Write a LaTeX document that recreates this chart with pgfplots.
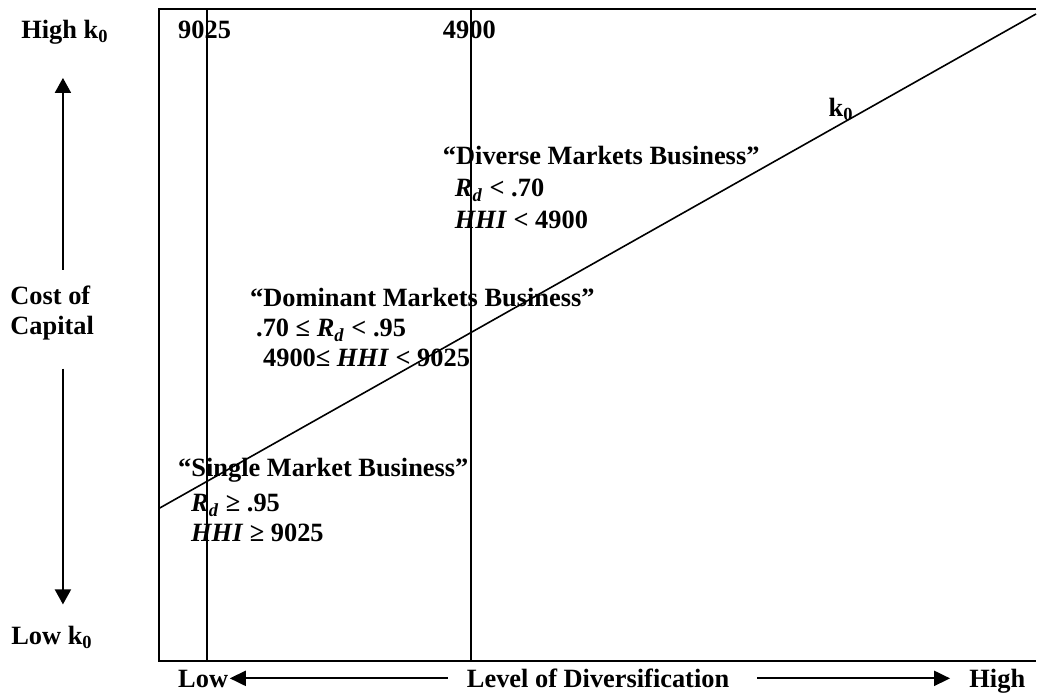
\documentclass[border=0pt]{standalone}
\usepackage{pgfplots}
\pgfplotsset{compat=1.18}
\usepackage{fontspec}
\setmainfont{Liberation Serif}
\usetikzlibrary{arrows.meta}
\tikzset{lab/.style={font=\fontsize{13.2}{15}\selectfont\bfseries, inner sep=0pt, anchor=base west}}
\newcommand{\Rd}{\textit{R}\textsubscript{\textit{d}}}
\begin{document}
\begin{tikzpicture}
\begin{axis}[scale only axis, width=518.5pt, height=347pt,
  xmin=0, xmax=1037, ymin=0, ymax=694, y dir=reverse,
  hide axis, clip=false]
% invisible corners for bounding box
\addplot[draw=none] coordinates {(0,0) (1037,694)};
% box
\addplot[black, line width=1pt] coordinates {(1037,9) (159,9) (159,662) (1037,662)};
% vertical thresholds
\addplot[black, line width=1pt] coordinates {(207,9) (207,662)};
\addplot[black, line width=1pt] coordinates {(471,9) (471,662)};
% k0 line
\addplot[black, line width=0.8pt] coordinates {(159,509) (1037,14)};
% arrows
\addplot[black, line width=1pt, -{Triangle[length=7.5pt,width=8pt]}] coordinates {(63,270) (63,78)};
\addplot[black, line width=1pt, -{Triangle[length=7.5pt,width=8pt]}] coordinates {(63,369) (63,605)};
\addplot[black, line width=1pt, -{Triangle[length=8pt,width=7.5pt]}] coordinates {(448,679) (230,679)};
\addplot[black, line width=1pt, -{Triangle[length=8pt,width=7.5pt]}] coordinates {(758,679) (951,679)};
% labels
\node[lab] at (axis cs:21,39) {High k\textsubscript{0}};
\node[lab] at (axis cs:178,39) {9025};
\node[lab] at (axis cs:443,39) {4900};
\node[lab] at (axis cs:10,305) {Cost of};
\node[lab] at (axis cs:10,335) {Capital};
\node[lab] at (axis cs:11,645) {Low k\textsubscript{0}};
\node[lab] at (axis cs:829,117) {k\textsubscript{0}};
\node[lab] at (axis cs:443,165) {“Diverse Markets Business”};
\node[lab] at (axis cs:455,197) {\Rd{} < .70};
\node[lab] at (axis cs:455,229) {\textit{HHI} < 4900};
\node[lab] at (axis cs:250,307) {“Dominant Markets Business”};
\node[lab] at (axis cs:256,337) {.70 ≤ \Rd{} < .95};
\node[lab] at (axis cs:263,367) {4900≤ \textit{HHI} < 9025};
\node[lab] at (axis cs:178,477) {“Single Market Business”};
\node[lab] at (axis cs:191,512) {\Rd{} ≥ .95};
\node[lab] at (axis cs:191,542) {\textit{HHI} ≥ 9025};
\node[lab] at (axis cs:178,688) {Low};
\node[lab] at (axis cs:467,688) {Level of Diversification};
\node[lab] at (axis cs:970,688) {High};
\end{axis}
\end{tikzpicture}
\end{document}
